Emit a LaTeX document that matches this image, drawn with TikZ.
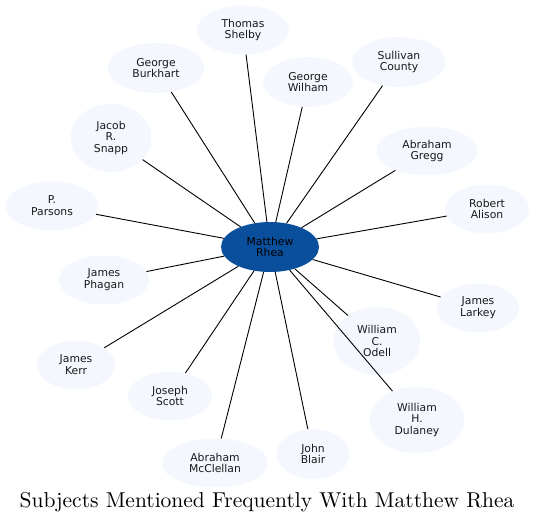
\documentclass[tikz,border=0pt]{standalone}
\usepackage{fontspec}
\newfontfamily\dv{DejaVu Sans}
\newfontfamily\titlefont{lmroman10-regular}[Extension=.otf]
\usetikzlibrary{shapes.geometric}
\definecolor{leaf}{HTML}{F4F8FE}
\definecolor{hub}{HTML}{0A4F9C}
\tikzset{
  leafnode/.style={ellipse, fill=leaf, inner sep=0pt, align=center,
    font=\dv\fontsize{10.8}{11.8}\selectfont, text=black!90},
  hubnode/.style={ellipse, fill=hub, inner sep=0pt, align=center,
    font=\dv\fontsize{10.8}{11.8}\selectfont, text=black},
  link/.style={draw=black, line width=0.9pt},
}
\begin{document}
\begin{tikzpicture}[x=1pt,y=-1pt]
\useasboundingbox (0,0) rectangle (534,524);
\node[hubnode, minimum width=98, minimum height=50] (c) at (270,247) {Matthew\\Rhea};
\node[leafnode, minimum width=92, minimum height=49] (shelby) at (243,30) {Thomas\\Shelby};
\node[leafnode, minimum width=97, minimum height=50] (burkhart) at (156,68) {George\\Burkhart};
\node[leafnode, minimum width=90, minimum height=50] (wilham) at (308,82) {George\\Wilham};
\node[leafnode, minimum width=94, minimum height=50] (sullivan) at (399,62) {Sullivan\\County};
\node[leafnode, minimum width=81, minimum height=68] (snapp) at (111,138) {Jacob\\R.\\Snapp};
\node[leafnode, minimum width=101, minimum height=49] (gregg) at (427,151) {Abraham\\Gregg};
\node[leafnode, minimum width=93, minimum height=49] (parsons) at (52,206) {P.\\Parsons};
\node[leafnode, minimum width=84, minimum height=49] (alison) at (487,209) {Robert\\Alison};
\node[leafnode, minimum width=90, minimum height=49] (phagan) at (104,280) {James\\Phagan};
\node[leafnode, minimum width=83, minimum height=49] (larkey) at (478,308) {James\\Larkey};
\node[leafnode, minimum width=87, minimum height=68] (odell) at (377,341) {William\\C.\\Odell};
\node[leafnode, minimum width=78, minimum height=49] (kerr) at (76,365) {James\\Kerr};
\node[leafnode, minimum width=84, minimum height=49] (scott) at (170,396) {Joseph\\Scott};
\node[leafnode, minimum width=95, minimum height=67] (dulaney) at (417,420) {William\\H.\\Dulaney};
\node[leafnode, minimum width=106, minimum height=49] (mcclellan) at (215,463) {Abraham\\McClellan};
\node[leafnode, minimum width=73, minimum height=50] (blair) at (313,454) {John\\Blair};
\foreach \n in {shelby,burkhart,wilham,sullivan,snapp,gregg,parsons,alison,phagan,larkey,odell,kerr,scott,dulaney,mcclellan,blair}
  \draw[link] (c) -- (\n);
\node[anchor=base, font=\titlefont\fontsize{21.5}{25}\selectfont] (title) at (267,507) {Subjects Mentioned Frequently With Matthew Rhea};
\end{tikzpicture}
\end{document}
